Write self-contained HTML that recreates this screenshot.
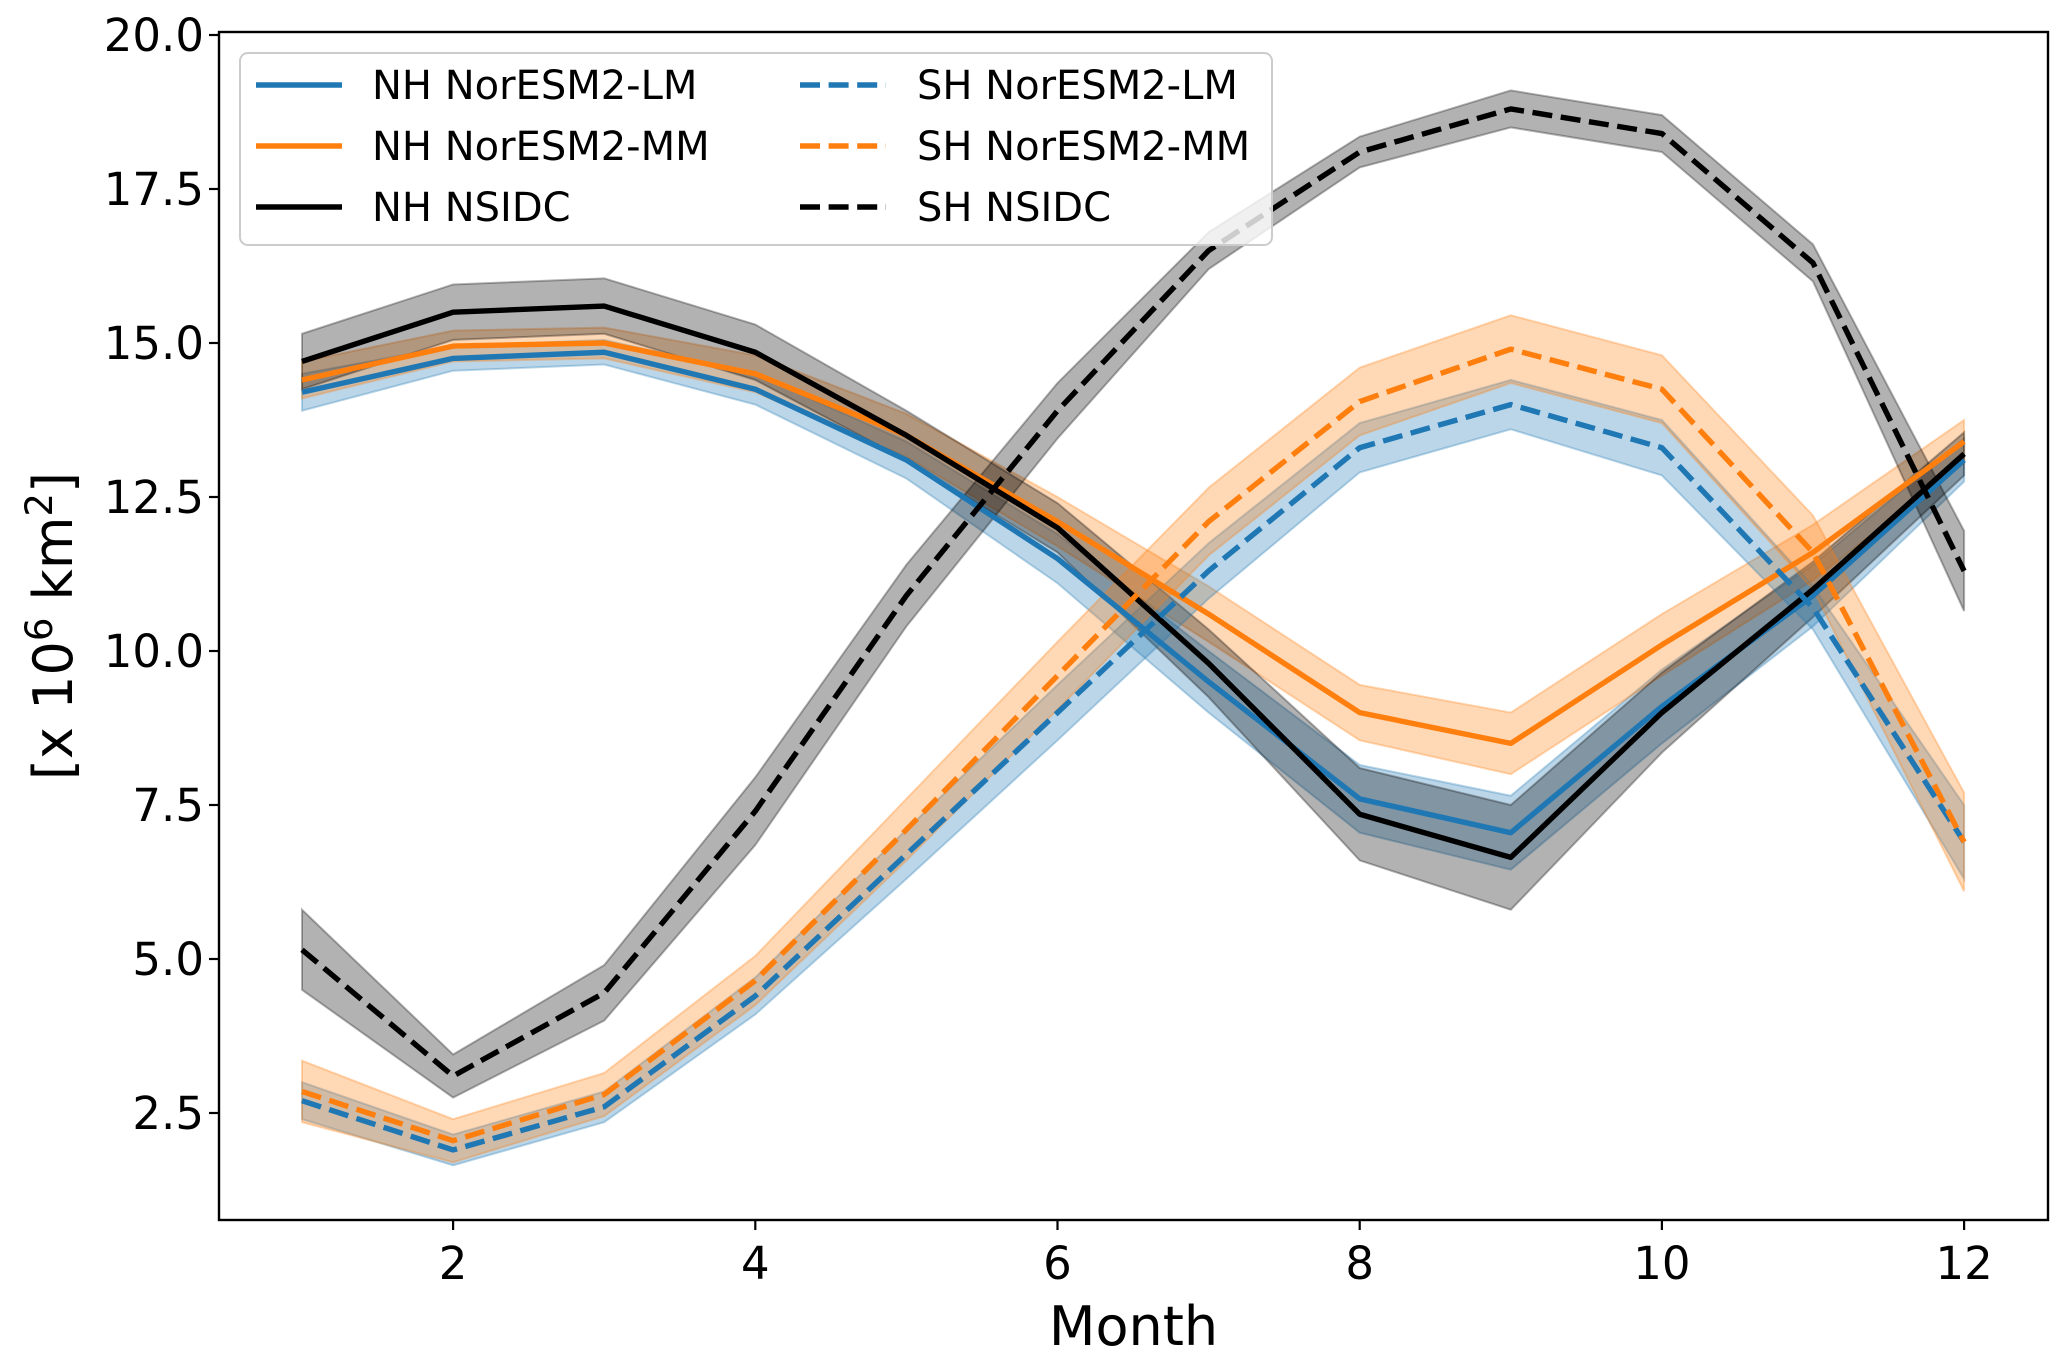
<!DOCTYPE html>
<html><head><meta charset="utf-8"><style>
body{margin:0;background:#fff;}
svg text{font-family:"DejaVu Sans","Liberation Sans",sans-serif;}
</style></head><body>
<svg id="chart" width="2067" height="1359" viewBox="0 0 2067 1359" xmlns="http://www.w3.org/2000/svg">
<g id="bands"></g>
<g id="lines"></g>
<g id="axes"></g>
<g id="legend"></g>
</svg>
<script>
const months = [1,2,3,4,5,6,7,8,9,10,11,12];
const xTicks = [2,4,6,8,10,12];
const yTicks = [2.5,5.0,7.5,10.0,12.5,15.0,17.5,20.0];
const nhLM = [14.2,14.75,14.85,14.25,13.1,11.5,9.5,7.6,7.05,9.1,10.9,13.1];
const nhLMsd = [0.3,0.2,0.2,0.25,0.3,0.4,0.5,0.55,0.6,0.6,0.5,0.35];
const nhMM = [14.4,14.95,15.0,14.5,13.5,12.1,10.6,9.0,8.5,10.1,11.6,13.4];
const nhMMsd = [0.3,0.25,0.25,0.3,0.35,0.4,0.45,0.45,0.5,0.5,0.45,0.35];
const nhNS = [14.7,15.5,15.6,14.85,13.5,12.0,9.8,7.35,6.65,9.0,11.0,13.2];
const nhNSsd = [0.45,0.45,0.45,0.45,0.4,0.4,0.55,0.75,0.85,0.65,0.45,0.35];
const shLM = [2.7,1.9,2.6,4.4,6.7,9.0,11.3,13.3,14.0,13.3,10.7,6.9];
const shLMsd = [0.3,0.25,0.25,0.3,0.4,0.45,0.45,0.4,0.4,0.45,0.35,0.6];
const shMM = [2.85,2.05,2.8,4.65,7.1,9.6,12.1,14.05,14.9,14.25,11.6,6.9];
const shMMsd = [0.5,0.35,0.35,0.4,0.5,0.55,0.55,0.55,0.55,0.55,0.6,0.8];
const shNS = [5.15,3.1,4.45,7.4,10.9,13.9,16.5,18.1,18.8,18.4,16.3,11.3];
const shNSsd = [0.65,0.35,0.45,0.55,0.5,0.45,0.3,0.25,0.3,0.3,0.3,0.65];

const L=219,R=2048,T=32,B=1220;
function xs(m){return 302+(m-1)*151.1;}
function ys(v){return 35+(20-v)*61.6;}
const NS='http://www.w3.org/2000/svg';
function mk(tag,attrs,parent){const e=document.createElementNS(NS,tag);for(const k in attrs)e.setAttribute(k,attrs[k]);parent.appendChild(e);return e;}
const bands=document.getElementById('bands'),lines=document.getElementById('lines'),axes=document.getElementById('axes'),legend=document.getElementById('legend');
const LW=5.4, DASH='20,8.6';
const series=[
 {n:'nh-noresm2-lm',d:nhLM,s:nhLMsd,c:'#1f77b4',dash:false,label:'NH NorESM2-LM'},
 {n:'nh-noresm2-mm',d:nhMM,s:nhMMsd,c:'#ff7f0e',dash:false,label:'NH NorESM2-MM'},
 {n:'nh-nsidc',d:nhNS,s:nhNSsd,c:'#000000',dash:false,label:'NH NSIDC'},
 {n:'sh-noresm2-lm',d:shLM,s:shLMsd,c:'#1f77b4',dash:true,label:'SH NorESM2-LM'},
 {n:'sh-noresm2-mm',d:shMM,s:shMMsd,c:'#ff7f0e',dash:true,label:'SH NorESM2-MM'},
 {n:'sh-nsidc',d:shNS,s:shNSsd,c:'#000000',dash:true,label:'SH NSIDC'}
];
series.forEach(function(sr){
  let up=months.map((m,i)=>xs(m)+','+ys(sr.d[i]+sr.s[i]));
  let dn=months.map((m,i)=>xs(m)+','+ys(sr.d[i]-sr.s[i])).reverse();
  const p=mk('polygon',{points:up.concat(dn).join(' '),fill:sr.c,'fill-opacity':0.3,stroke:sr.c,'stroke-opacity':0.3,'stroke-width':2},bands);
  
  
});
series.forEach(function(sr){
  const pts=months.map((m,i)=>xs(m)+','+ys(sr.d[i])).join(' ');
  const a={points:pts,fill:'none',stroke:sr.c,'stroke-width':LW,'stroke-linejoin':'round'};
  if(sr.dash)a['stroke-dasharray']=DASH;
  const l=mk('polyline',a,lines);
  
  
});
const frame=mk('rect',{x:L,y:T,width:R-L,height:B-T,fill:'none',stroke:'#000','stroke-width':2.4},axes);


xTicks.forEach(function(t){
  mk('line',{x1:xs(t),x2:xs(t),y1:B,y2:B+10,stroke:'#000','stroke-width':2.2},axes);
  const tx=mk('text',{x:xs(t),y:B+59,'text-anchor':'middle','font-size':45,fill:'#000'},axes);
  tx.textContent=String(t);
  
  
});
yTicks.forEach(function(t){
  mk('line',{x1:L-10,x2:L,y1:ys(t),y2:ys(t),stroke:'#000','stroke-width':2.2},axes);
  const tx=mk('text',{x:L-15,y:ys(t)+16,'text-anchor':'end','font-size':45,fill:'#000'},axes);
  tx.textContent=t.toFixed(1);
  
  
});
const xt=mk('text',{x:(L+R)/2,y:1345,'text-anchor':'middle','font-size':54,fill:'#000'},axes);
xt.textContent='Month';


const yt=mk('text',{x:0,y:0,'text-anchor':'middle','font-size':54,fill:'#000',transform:'translate(72,626) rotate(-90)'},axes);
yt.innerHTML='[x 10<tspan dy="-20" font-size="37">6</tspan><tspan dy="20"> km</tspan><tspan dy="-20" font-size="37">2</tspan><tspan dy="20">]</tspan>';


const lb=mk('rect',{x:240,y:53,width:1032,height:192,rx:8,fill:'#fff','fill-opacity':0.8,stroke:'#cccccc','stroke-width':2},legend);


series.forEach(function(sr,i){
  const col=i<3?0:1,row=i%3;
  const hx=col?800:256, tx=col?917:372, y=85+row*61;
  const a={x1:hx,x2:hx+86,y1:y,y2:y,stroke:sr.c,'stroke-width':LW};
  if(sr.dash)a['stroke-dasharray']=DASH;
  const h=mk('line',a,legend);
  
  
  const t=mk('text',{x:tx,y:y+14,'font-size':40,fill:'#000'},legend);
  t.textContent=sr.label;
  
  
});
</script>
</body></html>
